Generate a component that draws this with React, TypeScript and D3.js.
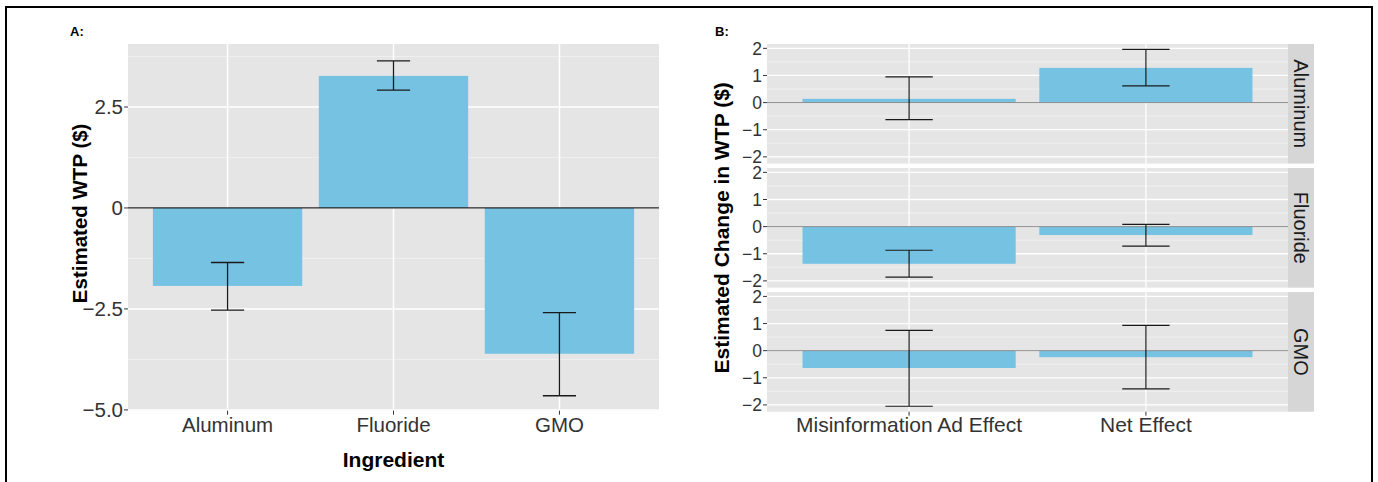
import React from "react";
import * as d3 from "d3";

// ---- Panel A data ----
const ingredients = ["Aluminum", "Fluoride", "GMO"];
const wtpEstimate = [-1.93, 3.27, -3.61];
const wtpLower = [-2.53, 2.92, -4.65];
const wtpUpper = [-1.35, 3.64, -2.59];
const ticksA = [2.5, 0, -2.5, -5.0];
const tickLabelsA = ["2.5", "0", "\u22122.5", "\u22125.0"];
const minorTicksA = [3.75, 1.25, -1.25, -3.75];

// ---- Panel B data ----
const effects = ["Misinformation Ad Effect", "Net Effect"];
const facets = ["Aluminum", "Fluoride", "GMO"];
const misinfoEstimate = [0.14, -1.37, -0.64];
const misinfoLower = [-0.63, -1.86, -2.05];
const misinfoUpper = [0.95, -0.87, 0.75];
const netEstimate = [1.28, -0.31, -0.24];
const netLower = [0.62, -0.72, -1.41];
const netUpper = [1.96, 0.085, 0.93];
const ticksB = [2, 1, 0, -1, -2];
const tickLabelsB = ["2", "1", "0", "\u22121", "\u22122"];
const minorTicksB = [1.5, 0.5, -0.5, -1.5];

const FONT = "'Liberation Sans', Arial, Helvetica, sans-serif";
const BAR = "#75C2E3";
const PANEL = "#E5E5E5";
const STRIP = "#D6D6D6";
const TXT = "#333333";

export default function App() {
  // Panel A geometry
  const aL = 128, aR = 659, aT = 44, aB = 410.7;
  const xA = d3.scaleBand<string>().domain(ingredients).range([aL, aR]).paddingInner(0.1).paddingOuter(0.15);
  const yA = d3.scaleLinear().domain([-5.02, 4.06]).range([aB, aT]);
  const ebwA = xA.step() * 0.2;

  // Panel B geometry
  const bL = 767, bR = 1288, sR = 1314, bT = 44, bB = 411.7, gap = 4.4;
  const facetH = (bB - bT - 2 * gap) / 3;
  const xB = d3.scaleBand<string>().domain(effects).range([bL, bR]).paddingInner(0.1).paddingOuter(0.15);
  const ebwB = xB.step() * 0.2;
  const series = [
    { est: misinfoEstimate, lo: misinfoLower, hi: misinfoUpper },
    { est: netEstimate, lo: netLower, hi: netUpper },
  ];

  return (
    <div style={{ position: "absolute", left: 0, top: 0 }}>
      <svg width={1378} height={482} style={{ display: "block", fontFamily: FONT }}>
        <rect x={0} y={0} width={1378} height={482} fill="#fff" />
        {/* outer frame */}
        <path d="M6,490 L6,7 L1372,7 L1372,490" fill="none" stroke="#000" strokeWidth={2} />

        {/* ---------- Panel A ---------- */}
        <text x={70} y={35.5} fontSize={13} fontWeight="bold" fill="#000">A:</text>
        <rect x={aL} y={aT} width={aR - aL} height={aB - aT} fill={PANEL} />
        {minorTicksA.map((t) => (
          <line key={"ma" + t} x1={aL} x2={aR} y1={yA(t)} y2={yA(t)} stroke="#F2F2F2" strokeWidth={0.8} />
        ))}
        {ticksA.map((t) => (
          <line key={"ga" + t} x1={aL} x2={aR} y1={yA(t)} y2={yA(t)} stroke="#fff" strokeWidth={1.5} />
        ))}
        {ingredients.map((c) => (
          <line key={"va" + c} x1={xA(c)! + xA.bandwidth() / 2} x2={xA(c)! + xA.bandwidth() / 2} y1={aT} y2={aB} stroke="#fff" strokeWidth={1.5} />
        ))}
        {ingredients.map((c, i) => (
          <rect key={"ba" + c} x={xA(c)!} width={xA.bandwidth()} y={yA(Math.max(0, wtpEstimate[i]))} height={Math.abs(yA(wtpEstimate[i]) - yA(0))} fill={BAR} />
        ))}
        <line x1={aL} x2={aR} y1={yA(0)} y2={yA(0)} stroke="#222" strokeWidth={1.3} />
        {ingredients.map((c, i) => {
          const cx = xA(c)! + xA.bandwidth() / 2;
          return (
            <g key={"ea" + c} stroke="#1a1a1a" strokeWidth={1.3}>
              <line x1={cx} x2={cx} y1={yA(wtpUpper[i])} y2={yA(wtpLower[i])} />
              <line x1={cx - ebwA / 2} x2={cx + ebwA / 2} y1={yA(wtpUpper[i])} y2={yA(wtpUpper[i])} />
              <line x1={cx - ebwA / 2} x2={cx + ebwA / 2} y1={yA(wtpLower[i])} y2={yA(wtpLower[i])} />
            </g>
          );
        })}
        {ticksA.map((t, i) => (
          <g key={"ta" + t}>
            <line x1={aL - 4} x2={aL} y1={yA(t)} y2={yA(t)} stroke={TXT} strokeWidth={1} />
            <text x={aL - 5} y={yA(t)} dy="0.36em" textAnchor="end" fontSize={20.5} fill={TXT}>{tickLabelsA[i]}</text>
          </g>
        ))}
        {ingredients.map((c) => (
          <g key={"xa" + c}>
            <line x1={xA(c)! + xA.bandwidth() / 2} x2={xA(c)! + xA.bandwidth() / 2} y1={aB} y2={aB + 4} stroke={TXT} strokeWidth={1} />
            <text x={xA(c)! + xA.bandwidth() / 2} y={432} textAnchor="middle" fontSize={20.5} fill={TXT}>{c}</text>
          </g>
        ))}
        <text x={(aL + aR) / 2} y={467} textAnchor="middle" fontSize={21} fontWeight="bold" fill="#000">Ingredient</text>
        <text transform={`translate(87,${(aT + aB) / 2 - 14}) rotate(-90)`} textAnchor="middle" fontSize={20.5} fontWeight="bold" fill="#000">Estimated WTP ($)</text>

        {/* ---------- Panel B ---------- */}
        <text x={715} y={35.5} fontSize={13} fontWeight="bold" fill="#000">B:</text>
        {facets.map((f, fi) => {
          const top = bT + fi * (facetH + gap);
          const yB = d3.scaleLinear().domain([-2.25, 2.16]).range([top + facetH, top]);
          return (
            <g key={"f" + f}>
              <rect x={bL} y={top} width={bR - bL} height={facetH} fill={PANEL} />
              {minorTicksB.map((t) => (
                <line key={"mb" + t} x1={bL} x2={bR} y1={yB(t)} y2={yB(t)} stroke="#F2F2F2" strokeWidth={0.8} />
              ))}
              {ticksB.map((t) => (
                <line key={"gb" + t} x1={bL} x2={bR} y1={yB(t)} y2={yB(t)} stroke="#fff" strokeWidth={1.3} />
              ))}
              {effects.map((e) => (
                <line key={"vb" + e} x1={xB(e)! + xB.bandwidth() / 2} x2={xB(e)! + xB.bandwidth() / 2} y1={top} y2={top + facetH} stroke="#fff" strokeWidth={1.3} />
              ))}
              {effects.map((e, si) => {
                const v = series[si].est[fi];
                return (
                  <rect key={"bb" + e} x={xB(e)!} width={xB.bandwidth()} y={yB(Math.max(0, v))} height={Math.abs(yB(v) - yB(0))} fill={BAR} />
                );
              })}
              <line x1={bL} x2={bR} y1={yB(0)} y2={yB(0)} stroke="#8C8C8C" strokeWidth={1} />
              {effects.map((e, si) => {
                const cx = xB(e)! + xB.bandwidth() / 2;
                const hi = yB(series[si].hi[fi]);
                const lo = yB(series[si].lo[fi]);
                return (
                  <g key={"eb" + e} stroke="#1a1a1a" strokeWidth={1.2}>
                    <line x1={cx} x2={cx} y1={hi} y2={lo} />
                    <line x1={cx - ebwB / 2} x2={cx + ebwB / 2} y1={hi} y2={hi} />
                    <line x1={cx - ebwB / 2} x2={cx + ebwB / 2} y1={lo} y2={lo} />
                  </g>
                );
              })}
              {ticksB.map((t, i) => (
                <g key={"tb" + t}>
                  <line x1={bL - 4} x2={bL} y1={yB(t)} y2={yB(t)} stroke={TXT} strokeWidth={1} />
                  <text x={bL - 5} y={yB(t)} dy="0.36em" textAnchor="end" fontSize={17.5} fill={TXT}>{tickLabelsB[i]}</text>
                </g>
              ))}
              <rect x={bR} y={top} width={sR - bR} height={facetH} fill={STRIP} />
              <text transform={`translate(${(bR + sR) / 2},${top + facetH / 2}) rotate(90)`} textAnchor="middle" dy="0.36em" fontSize={20} fill="#1a1a1a">{f}</text>
            </g>
          );
        })}
        {effects.map((e) => (
          <g key={"xb" + e}>
            <line x1={xB(e)! + xB.bandwidth() / 2} x2={xB(e)! + xB.bandwidth() / 2} y1={bB} y2={bB + 4} stroke={TXT} strokeWidth={1} />
            <text x={xB(e)! + xB.bandwidth() / 2} y={432} textAnchor="middle" fontSize={21} fill={TXT}>{e}</text>
          </g>
        ))}
        <text transform={`translate(729,${(bT + bB) / 2}) rotate(-90)`} textAnchor="middle" fontSize={21} fontWeight="bold" fill="#000">Estimated Change in WTP ($)</text>
      </svg>
    </div>
  );
}
